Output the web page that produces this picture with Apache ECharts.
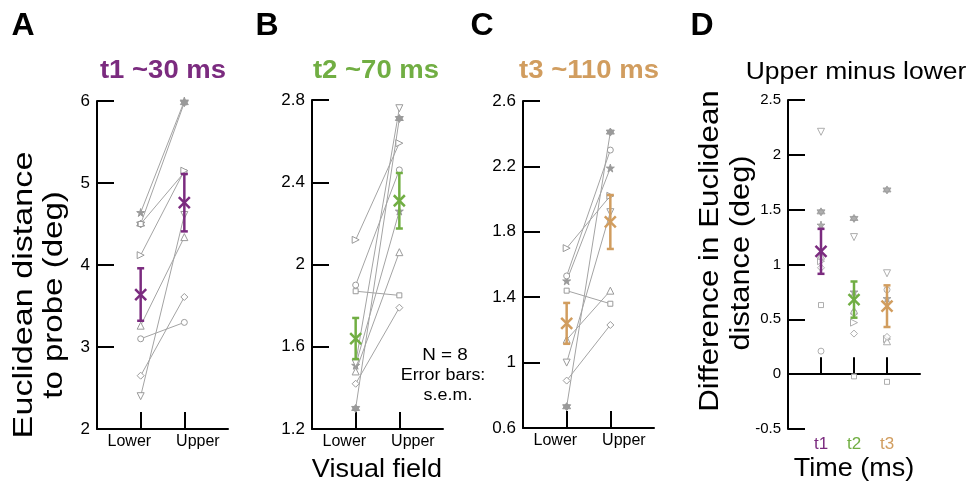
<!DOCTYPE html>
<html><head><meta charset="utf-8">
<script src="https://cdn.jsdelivr.net/npm/echarts@6/dist/echarts.min.js"></script>
<style>html,body{margin:0;padding:0;background:#fff}#c{width:972px;height:483px}</style>
</head><body><div id="c"></div>
<script>
// ---------- data ----------
const fields = ['Lower', 'Upper'];
const times = ['t1', 't2', 't3'];
const subjects = ['star', 'hexagram', 'square', 'rightTri', 'upTri', 'circle', 'diamond', 'downTri'];

// per-subject values (same subject order as above)
const t1Lower = [4.64, 4.50, 4.50, 4.12, 3.26, 3.10, 2.65, 2.40];
const t1Upper = [6.00, 5.98, 5.13, 5.15, 4.34, 3.30, 3.61, 4.61];
const t2Lower = [1.51, 1.30, 1.87, 2.12, 1.48, 1.90, 1.42, 1.52];
const t2Upper = [2.26, 2.71, 1.85, 2.59, 2.06, 2.46, 1.79, 2.76];
const t3Lower = [1.50, 0.73, 1.44, 1.70, 1.14, 1.53, 0.89, 1.00];
const t3Upper = [2.19, 2.41, 1.36, 2.02, 1.44, 2.30, 1.23, 1.92];

// upper minus lower per subject
const diffT1 = [1.36, 1.48, 0.63, 1.03, 1.08, 0.21, 0.97, 2.21];
const diffT2 = [0.75, 1.42, -0.02, 0.47, 0.58, 0.56, 0.37, 1.25];
const diffT3 = [0.69, 1.68, -0.07, 0.32, 0.30, 0.77, 0.34, 0.92];

// group means and s.e.m. ([Lower, Upper])
const t1Mean = [3.64, 4.76], t1Sem = [0.32, 0.35];
const t2Mean = [1.64, 2.31], t2Sem = [0.10, 0.135];
const t3Mean = [1.24, 1.86], t3Sem = [0.125, 0.165];
const diffMean = [1.12, 0.68, 0.62], diffSem = [0.205, 0.165, 0.19];

// axis ticks
const ticksA = [2, 3, 4, 5, 6];
const ticksB = [1.2, 1.6, 2, 2.4, 2.8];
const ticksC = [0.6, 1, 1.4, 1.8, 2.2, 2.6];
const ticksD = [-0.5, 0, 0.5, 1, 1.5, 2, 2.5];

const titles = ['t1 ~30 ms', 't2 ~70 ms', 't3 ~110 ms'];
// ---------- styling ----------
const PURPLE = '#7b2b7f', GREEN = '#71ae43', TAN = '#d19d5f';
const GRAY = '#a3a3a3', MK = '#9a9a9a';
const FONT = 'Liberation Sans, Arial, sans-serif';

const symbolDefs = {
  star: {symbol: 'path://M50,0L61,35L98,35L68,57L79,91L50,70L21,91L32,57L2,35L39,35Z', size: 8, fill: MK},
  hexagram: {symbol: 'path://M50,0L93,75L7,75Z M50,100L7,25L93,25Z', size: 8, fill: MK},
  square: {symbol: 'rect', size: 5, fill: '#fff'},
  rightTri: {symbol: 'path://M0,0L87,50L0,100Z', size: 7, fill: '#fff'},
  upTri: {symbol: 'triangle', size: 7, fill: '#fff'},
  circle: {symbol: 'circle', size: 6, fill: '#fff'},
  diamond: {symbol: 'diamond', size: 7, fill: '#fff'},
  downTri: {symbol: 'path://M0,0L100,0L50,87Z', size: 7, fill: '#fff'}
};

const grids = [
  {left: 97, top: 101, width: 131, height: 328},
  {left: 312, top: 100, width: 131, height: 329},
  {left: 523, top: 101, width: 131, height: 327},
  {left: 788, top: 100, width: 132, height: 329}
];

const axisCommon = {
  axisLine: {lineStyle: {color: '#000', width: 2}},
  axisTick: {inside: true, length: 17, lineStyle: {color: '#000', width: 2}},
  splitLine: {show: false}
};

function yAxisFor(gi, ticks, fs) {
  return Object.assign({}, axisCommon, {
    type: 'value', gridIndex: gi,
    min: ticks[0], max: ticks[ticks.length - 1], interval: +(ticks[1] - ticks[0]).toFixed(2),
    axisLabel: {fontFamily: FONT, fontSize: fs, color: '#000', margin: 7,
      formatter: v => String(+v.toFixed(2))}
  });
}
function xAxisFor(gi) {
  return Object.assign({}, axisCommon, {
    type: 'value', gridIndex: gi, min: 0, max: 3,
    axisTick: {inside: true, length: 17, lineStyle: {color: '#000', width: 2}, customValues: [1, 2]},
    axisLabel: {fontFamily: FONT, fontSize: 16, color: '#000', margin: 5,
      customValues: [0.74, 2.31], formatter: v => (v < 1.5 ? fields[0] : fields[1])}
  });
}

const xAxes = [xAxisFor(0), xAxisFor(1), xAxisFor(2),
  Object.assign({}, axisCommon, {
    type: 'value', gridIndex: 3, min: 0, max: 4,
    axisTick: {inside: true, length: 17, lineStyle: {color: '#000', width: 2}, customValues: [1, 2, 3]},
    axisLabel: {fontFamily: FONT, fontSize: 17, margin: 7, customValues: [1, 2, 3],
      formatter: v => '{' + times[Math.round(v) - 1] + '|' + times[Math.round(v) - 1] + '}',
      rich: {t1: {color: PURPLE, fontSize: 17, fontFamily: FONT},
             t2: {color: GREEN, fontSize: 17, fontFamily: FONT},
             t3: {color: TAN, fontSize: 17, fontFamily: FONT}}}
  })];
const yAxes = [yAxisFor(0, ticksA, 17), yAxisFor(1, ticksB, 17), yAxisFor(2, ticksC, 17), yAxisFor(3, ticksD, 15)];

const series = [];
function subjectSeries(gi, lower, upper) {
  subjects.forEach((s, i) => {
    const d = symbolDefs[s];
    series.push({
      type: 'line', xAxisIndex: gi, yAxisIndex: gi,
      data: [[1, lower[i]], [2, upper[i]]],
      symbol: d.symbol, symbolSize: d.size, showAllSymbol: true,
      lineStyle: {color: GRAY, width: 1},
      itemStyle: {color: d.fill, borderColor: MK, borderWidth: 1},
      emphasis: {disabled: true}, animation: false, z: 2
    });
  });
}
function errSeries(gi, xs, means, sems, colors) {
  series.push({
    type: 'custom', xAxisIndex: gi, yAxisIndex: gi,
    data: means.map((m, i) => [xs[i], m, m - sems[i], m + sems[i], i]),
    renderItem: (params, api) => {
      const x = api.value(0), m = api.value(1), lo = api.value(2), hi = api.value(3);
      const c = colors[api.value(4)];
      const pl = api.coord([x, lo]), ph = api.coord([x, hi]), pm = api.coord([x, m]);
      const cap = 3.5, cr = 5.5;
      const st = {stroke: c, lineWidth: 2.5};
      return {type: 'group', children: [
        {type: 'line', shape: {x1: pl[0], y1: pl[1], x2: ph[0], y2: ph[1]}, style: st},
        {type: 'line', shape: {x1: pl[0] - cap, y1: pl[1], x2: pl[0] + cap, y2: pl[1]}, style: st},
        {type: 'line', shape: {x1: ph[0] - cap, y1: ph[1], x2: ph[0] + cap, y2: ph[1]}, style: st},
        {type: 'line', shape: {x1: pm[0] - cr, y1: pm[1] - cr, x2: pm[0] + cr, y2: pm[1] + cr}, style: st},
        {type: 'line', shape: {x1: pm[0] - cr, y1: pm[1] + cr, x2: pm[0] + cr, y2: pm[1] - cr}, style: st}
      ]};
    },
    z: 10, animation: false
  });
}

subjectSeries(0, t1Lower, t1Upper);
subjectSeries(1, t2Lower, t2Upper);
subjectSeries(2, t3Lower, t3Upper);
errSeries(0, [1, 2], t1Mean, t1Sem, [PURPLE, PURPLE]);
errSeries(1, [1, 2], t2Mean, t2Sem, [GREEN, GREEN]);
errSeries(2, [1, 2], t3Mean, t3Sem, [TAN, TAN]);

// Panel D: individual differences
subjects.forEach((s, i) => {
  const d = symbolDefs[s];
  series.push({
    type: 'scatter', xAxisIndex: 3, yAxisIndex: 3,
    data: [[1, diffT1[i]], [2, diffT2[i]], [3, diffT3[i]]],
    symbol: d.symbol, symbolSize: d.size,
    itemStyle: {color: d.fill, borderColor: MK, borderWidth: 1},
    emphasis: {disabled: true}, animation: false, z: 2
  });
});
// zero reference line
series.push({
  type: 'line', xAxisIndex: 3, yAxisIndex: 3, data: [], animation: false,
  markLine: {silent: true, symbol: 'none', label: {show: false},
    lineStyle: {color: '#000', width: 2, type: [16, 14], dashOffset: 16},
    data: [{yAxis: 0}]}
});
errSeries(3, [1, 2, 3], diffMean, diffSem, [PURPLE, GREEN, TAN]);

function txt(text, x, y, size, opts) {
  opts = opts || {};
  const el = {type: 'text', x: x, y: y,
    style: Object.assign({text: text, fontFamily: FONT, fontSize: size, fill: '#000',
      align: 'center', verticalAlign: 'middle'}, opts.style || {})};
  if (opts.rot) el.rotation = opts.rot;
  if (opts.sx) el.scaleX = opts.sx;
  return el;
}
const R = Math.PI / 2;
const graphic = [
  txt('A', 23, 26, 32, {style: {fontWeight: 'bold'}}),
  txt('B', 267, 26, 32, {style: {fontWeight: 'bold'}}),
  txt('C', 482, 26, 32, {style: {fontWeight: 'bold'}}),
  txt('D', 702, 26, 32, {style: {fontWeight: 'bold'}}),
  txt(titles[0], 163, 71, 25, {style: {fontWeight: 'bold', fill: PURPLE}, sx: 1.1}),
  txt(titles[1], 376, 71, 25, {style: {fontWeight: 'bold', fill: GREEN}, sx: 1.1}),
  txt(titles[2], 589, 71, 25, {style: {fontWeight: 'bold', fill: TAN}, sx: 1.1}),
  txt('Upper minus lower', 856, 73, 23, {sx: 1.15}),
  txt('Euclidean distance', 24, 295, 28, {rot: R, sx: 1.22}),
  txt('to probe (deg)', 54, 295, 28, {rot: R, sx: 1.18}),
  txt('Difference in Euclidean', 711, 251, 27, {rot: R, sx: 1.16}),
  txt('distance (deg)', 742, 253, 27, {rot: R, sx: 1.14}),
  txt('Visual field', 377, 470, 26, {sx: 1.04}),
  txt('Time (ms)', 854, 469, 26, {sx: 1.04}),
  txt('N = 8', 445, 356, 16, {sx: 1.18}),
  txt('Error bars:', 443, 376, 16, {sx: 1.12}),
  txt('s.e.m.', 448, 396, 16, {sx: 1.12})
];

const chart = echarts.init(document.getElementById('c'), null, {renderer: 'canvas'});
chart.setOption({
  animation: false,
  grid: grids,
  xAxis: xAxes,
  yAxis: yAxes,
  series: series,
  graphic: graphic
});
</script></body></html>
